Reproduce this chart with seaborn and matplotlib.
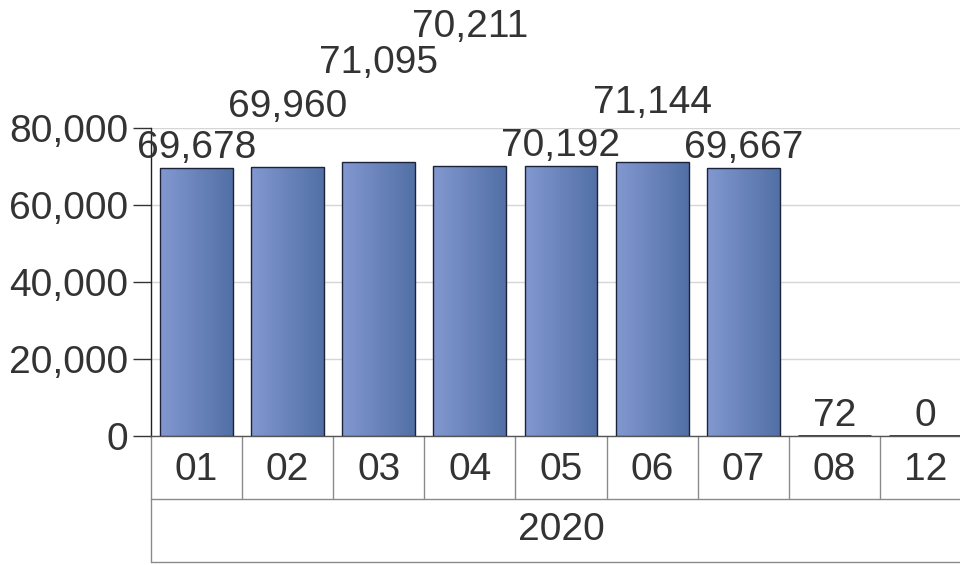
import matplotlib
matplotlib.use("Agg")
import matplotlib.pyplot as plt
import matplotlib.transforms as mtransforms
from matplotlib.colors import LinearSegmentedColormap
from matplotlib.ticker import FuncFormatter
import numpy as np
import pandas as pd
import seaborn as sns

# dati
mesi = ["01", "02", "03", "04", "05", "06", "07", "08", "12"]
valori = [69678, 69960, 71095, 70211, 70192, 71144, 69667, 72, 0]
anno = "2020"

# livello di sfalsamento delle etichette sopra le barre
livelli_etichette = [0, 1, 2, 3, 0, 1, 0, 0, 0]

sns.set_theme(style="white")
plt.rcParams["font.family"] = ["Liberation Sans", "DejaVu Sans"]
colore_testo = "#333333"
dim_font = 28

df = pd.DataFrame({"mese": mesi, "valore": valori})

fig = plt.figure(figsize=(9.6, 5.65), dpi=100)
ax = fig.add_axes([151 / 960, 129 / 565, 820 / 960, 308 / 565])

sns.barplot(data=df, x="mese", y="valore", order=mesi, ax=ax, width=0.8,
            color="#6a82bc", edgecolor="#1c2238", linewidth=1.0, zorder=3)

# riempimento a gradiente orizzontale sulle barre
cmap = LinearSegmentedColormap.from_list("blu", ["#8298d0", "#5270a6"])
gradiente = np.linspace(0, 1, 64).reshape(1, -1)
for patch in ax.patches:
    x0, y0 = patch.get_x(), patch.get_y()
    w, h = patch.get_width(), patch.get_height()
    if h < 500:
        # barre quasi nulle: solo una linea scura sulla base
        patch.set_linewidth(1.8)
        patch.set_edgecolor("#15192a")
        continue
    im = ax.imshow(gradiente, extent=[x0, x0 + w, y0, y0 + h], aspect="auto",
                   cmap=cmap, zorder=2.9, interpolation="bicubic")
    im.set_clip_path(patch)
    patch.set_facecolor("none")

ax.set_xlim(-0.5, len(mesi) - 0.5)
ax.set_ylim(0, 80000)
ax.set_aspect("auto")

ax.set_yticks(range(0, 80001, 20000))
ax.yaxis.set_major_formatter(FuncFormatter(lambda v, p: f"{int(v):,}"))
ax.yaxis.grid(True, color="#d6d6d6", linewidth=1, zorder=0)
ax.xaxis.grid(False)
ax.tick_params(axis="y", labelsize=dim_font, colors=colore_testo, length=13,
               width=1, pad=3.5, left=True)
ax.tick_params(axis="x", labelsize=dim_font, colors=colore_testo, length=0, pad=11.5)
ax.set_xlabel("")
ax.set_ylabel("")

for lato in ["top", "right"]:
    ax.spines[lato].set_visible(False)
ax.spines["left"].set_color("#222222")
ax.spines["bottom"].set_color("#555555")
ax.spines["left"].set_linewidth(1)
ax.spines["bottom"].set_linewidth(1)

# etichette dei valori
for i, (v, liv) in enumerate(zip(valori, livelli_etichette)):
    ax.annotate(f"{v:,}", xy=(i, v), xytext=(0, (20 + 39.5 * liv) * 0.72),
                textcoords="offset points", ha="center", va="center",
                fontsize=dim_font, color=colore_testo, annotation_clip=False, zorder=5)

# tabella delle categorie sotto l'asse
trans = mtransforms.blended_transform_factory(ax.transData, ax.transAxes)
riga = 63 / 308
grigio = "#8a8a8a"
for k in range(len(mesi) + 1):
    ax.plot([k - 0.5, k - 0.5], [0, -riga], transform=trans, color=grigio,
            linewidth=1, clip_on=False)
ax.plot([-0.5, len(mesi) - 0.5], [-riga, -riga], transform=trans, color=grigio,
        linewidth=1, clip_on=False)
ax.plot([-0.5, -0.5], [-riga, -2 * riga], transform=trans, color=grigio,
        linewidth=1, clip_on=False)
ax.plot([-0.5, len(mesi) - 0.5], [-2 * riga, -2 * riga], transform=trans,
        color=grigio, linewidth=1, clip_on=False)
ax.text((len(mesi) - 1) / 2, -1.5 * riga, anno, transform=trans, ha="center",
        va="center", fontsize=dim_font, color=colore_testo)

fig.savefig("out.png", dpi=100)
